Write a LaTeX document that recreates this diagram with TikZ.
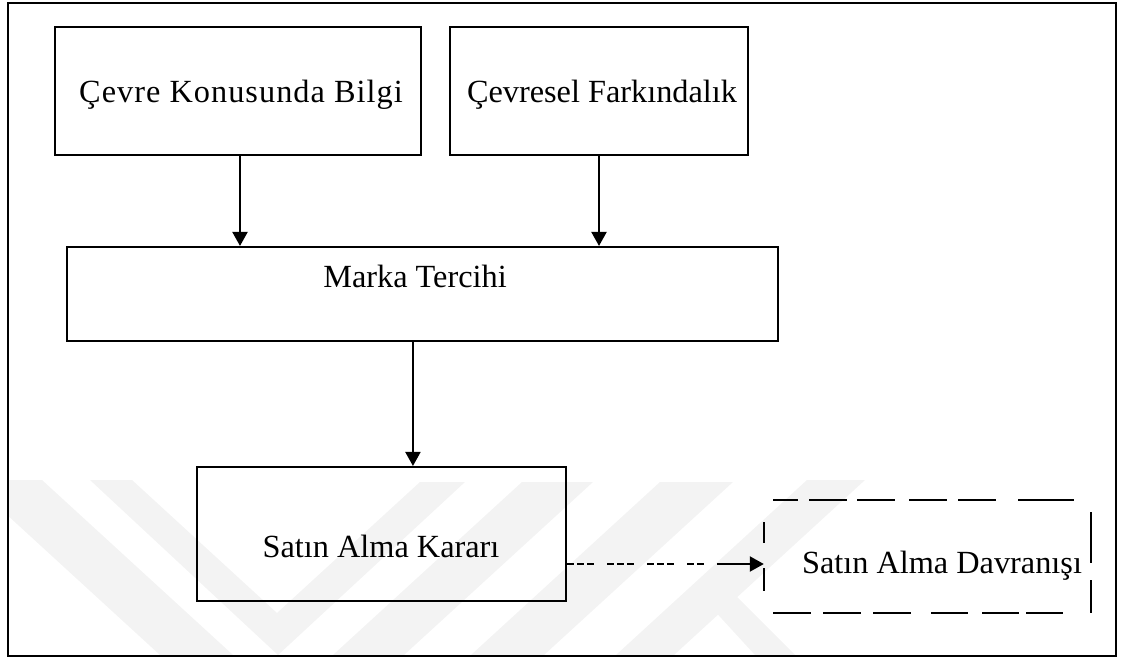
\documentclass[tikz,border=0pt]{standalone}
\usepackage{fontspec}
\setmainfont{Liberation Serif}
\usetikzlibrary{arrows.meta,calc}
\definecolor{wm}{RGB}{243,243,243}
\tikzset{
  box/.style={draw, line width=2.1pt, inner sep=0pt, rectangle},
  lbl/.style={anchor=base, inner sep=0pt, font=\fontsize{32.3}{38}\selectfont},
  arr/.style={line width=2.1pt, -{Triangle[length=14pt,width=15pt]}},
  dsh/.style={line width=2.5pt},
  wmark/.style={fill=wm, draw=none}
}
\begin{document}
\begin{tikzpicture}[x=1pt,y=-1pt]
\useasboundingbox (0,0) rectangle (1124,661);
% watermark
\begin{scope}
\clip (9,4) rectangle (1115,655);
\fill[wmark] (-31,480) -- (42,480) -- (233,655) -- (160,655) -- cycle;
\fill[wmark] (90,480) -- (132,480) -- (277,613) -- (420,482) -- (465,482) -- (278,655) -- cycle;
\fill[wmark] (522,482) -- (593,482) -- (404,655) -- (333,655) -- cycle;
\fill[wmark] (660,482) -- (733,482) -- (544,655) -- (471,655) -- cycle;
\fill[wmark] (807,480) -- (865,480) -- (674,655) -- (616,655) -- cycle;
\fill[wmark] (700,595) -- (735,595) -- (795,655) -- (755,655) -- cycle;
\end{scope}
% outer frame
\node[box, minimum width=1108, minimum height=653] (frame) at (562,329.5) {};
% boxes
\node[box, minimum width=366, minimum height=128] (b1) at (238,91) {};
\node[box, minimum width=298, minimum height=128] (b2) at (599,91) {};
\node[box, minimum width=711, minimum height=94] (mt) at (422.5,294) {};
\node[box, minimum width=369, minimum height=134] (sk) at (381.5,534) {};
\node[inner sep=0pt, minimum width=327, minimum height=113] (dv) at (927.5,556.5) {};
% labels
\node[lbl] (t1) at (241,102) {\addfontfeature{LetterSpace=3.2}Çevre Konusunda Bilgi};
\node[lbl] (t2) at (602,102) {Çevresel Farkındalık};
\node[lbl] (t3) at (415,287) {Marka Tercihi};
\node[lbl] (t4) at (381,557) {Satın Alma Kararı};
\node[lbl] (t5) at (942,573) {Satın Alma Davranışı};
% dashed outline of dv
\foreach \a/\b in {773/798, 809/847, 857/895, 909/947, 958/996, 1018/1074}
  \draw[dsh] (\a,500) -- (\b,500);
\foreach \a/\b in {773/811, 823/861, 873/911, 931/968, 982/1019, 1026/1063}
  \draw[dsh] (\a,613) -- (\b,613);
\draw[dsh] (764,522) -- (764,543);
\draw[dsh] (764,568) -- (764,591);
\draw[dsh] (1091,512) -- (1091,563);
\draw[dsh] (1091,580) -- (1091,613);
% connectors
\draw[arr] ($(b1.south)+(2,0)$) -- ($(b1.south |- mt.north)+(2,0)$);
\draw[arr] (b2.south) -- (b2.south |- mt.north);
\draw[arr] ($(mt.south west)+(347,0)$) -- ($(sk.north west)+(217,0)$);
\coordinate (dend) at ($(sk.east)+(140,30)$);
\draw[line width=2.6pt, dash pattern=on 7pt off 3pt on 7pt off 3pt on 7pt off 13pt] ($(sk.east)+(0,30)$) -- (dend);
\draw[arr] ($(dend)+(10,0)$) -- ($(dv.west)+(0,7.5)$);
\end{tikzpicture}
\end{document}
